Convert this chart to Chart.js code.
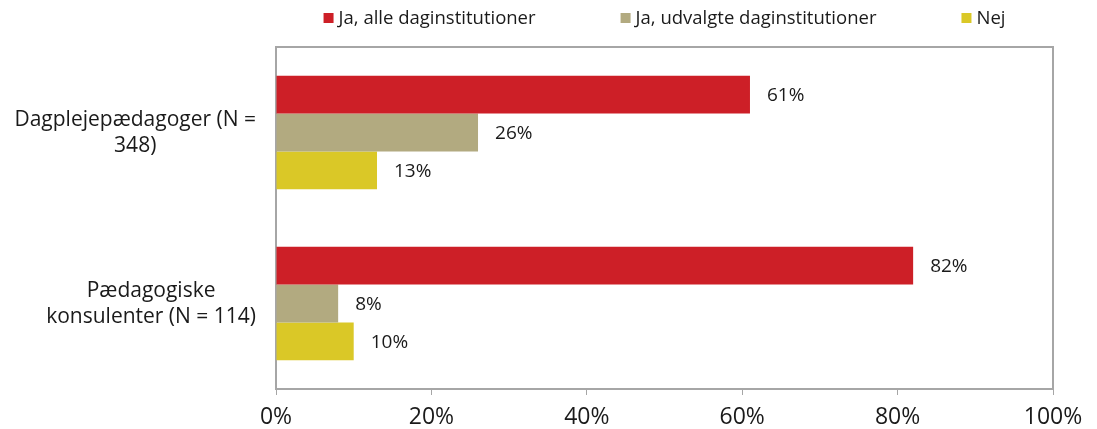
<!DOCTYPE html>
<html>
<head>
<meta charset="utf-8">
<script src="https://cdn.jsdelivr.net/npm/chart.js@4"></script>
<style>
html,body{margin:0;padding:0;background:#fff;}
#wrap{width:1097px;height:429px;position:relative;}
</style>
</head>
<body>
<div id="wrap"><canvas id="c" width="1097" height="429"></canvas></div>
<script>
const categories = [["Dagplejepædagoger (N =", "348)"], ["Pædagogiske", "konsulenter (N = 114)"]];
const seriesNames = ["Ja, alle daginstitutioner", "Ja, udvalgte daginstitutioner", "Nej"];
const allInstitutions = [61, 82];
const selectedInstitutions = [26, 8];
const noValues = [13, 10];
const xTicks = [0, 20, 40, 60, 80, 100];
const colors = ["#CD1F27", "#B2AA80", "#DAC827"];

const FONT = "'Open Sans', 'Noto Sans', sans-serif";
const TEXT = '#1a1a1a';

const boxPlugin = {
  id: 'box',
  beforeDatasetsDraw(chart) {
    const a = chart.chartArea, ctx = chart.ctx;
    ctx.save();
    ctx.strokeStyle = '#A6A6A6';
    ctx.lineWidth = 2;
    ctx.strokeRect(a.left, a.top, a.right - a.left, a.bottom - a.top);
    ctx.restore();
  }
};

const labelPlugin = {
  id: 'vals',
  afterDatasetsDraw(chart) {
    const ctx = chart.ctx;
    ctx.save();
    ctx.font = "19px " + FONT;
    ctx.fillStyle = TEXT;
    ctx.textAlign = 'left';
    ctx.textBaseline = 'middle';
    chart.data.datasets.forEach((ds, i) => {
      chart.getDatasetMeta(i).data.forEach((el, j) => {
        ctx.fillText(ds.data[j] + '%', el.x + 17, el.y + 1);
      });
    });
    ctx.restore();
  }
};

// category labels: each block centred on its own widest line, right edge 20px left of the axis
const catLabelPlugin = {
  id: 'catLabels',
  afterDraw(chart) {
    const ctx = chart.ctx, ys = chart.scales.y, a = chart.chartArea;
    ctx.save();
    ctx.font = "21px " + FONT;
    ctx.fillStyle = TEXT;
    ctx.textAlign = 'center';
    ctx.textBaseline = 'middle';
    const lh = 26;
    chart.data.labels.forEach((lines, i) => {
      const y = ys.getPixelForTick(i);
      const widest = Math.max(...lines.map(l => ctx.measureText(l).width));
      const cx = a.left - 20 - widest / 2;
      lines.forEach((l, k) => {
        ctx.fillText(l, cx, y + (k - (lines.length - 1) / 2) * lh + 1);
      });
    });
    ctx.restore();
  }
};

// legend centred over the plot area
const legendPlugin = {
  id: 'customLegend',
  afterDraw(chart) {
    const ctx = chart.ctx, a = chart.chartArea;
    ctx.save();
    ctx.font = "18.5px " + FONT;
    ctx.textBaseline = 'middle';
    ctx.textAlign = 'left';
    const box = 10, gapText = 5, gapItem = 85;
    const ds = chart.data.datasets;
    const widths = ds.map(d => box + gapText + ctx.measureText(d.label).width);
    const total = widths.reduce((s, w) => s + w, 0) + gapItem * (ds.length - 1);
    let x = (a.left + a.right) / 2 - total / 2;
    const y = 18;
    ds.forEach((d, i) => {
      ctx.fillStyle = d.backgroundColor;
      ctx.fillRect(x, y - box / 2, box, box);
      ctx.fillStyle = TEXT;
      ctx.fillText(d.label, x + box + gapText, y + 1);
      x += widths[i] + gapItem;
    });
    ctx.restore();
  }
};

new Chart(document.getElementById('c'), {
  type: 'bar',
  data: {
    labels: categories,
    datasets: [
      {label: seriesNames[0], data: allInstitutions, backgroundColor: colors[0]},
      {label: seriesNames[1], data: selectedInstitutions, backgroundColor: colors[1]},
      {label: seriesNames[2], data: noValues, backgroundColor: colors[2]}
    ]
  },
  options: {
    indexAxis: 'y',
    responsive: false,
    animation: false,
    devicePixelRatio: 1,
    layout: {padding: {left: 0, right: 44, top: 47, bottom: 0}},
    datasets: {bar: {categoryPercentage: 0.665, barPercentage: 1.0}},
    plugins: {
      legend: {display: false},
      tooltip: {enabled: false}
    },
    scales: {
      x: {
        min: 0, max: 100,
        afterBuildTicks(s) { s.ticks = xTicks.map(v => ({value: v})); },
        afterFit(s) { s.height = 40; },
        ticks: {
          callback: v => v + '%',
          font: {family: FONT, size: 23},
          color: TEXT,
          padding: 9,
          maxRotation: 0
        },
        grid: {drawOnChartArea: false, drawTicks: true, tickLength: 6, color: '#A6A6A6', lineWidth: 1},
        border: {display: false}
      },
      y: {
        afterFit(s) { s.width = 276; },
        ticks: {display: false},
        grid: {display: false, drawTicks: false},
        border: {display: false}
      }
    }
  },
  plugins: [boxPlugin, labelPlugin, catLabelPlugin, legendPlugin]
});
</script>
</body>
</html>
